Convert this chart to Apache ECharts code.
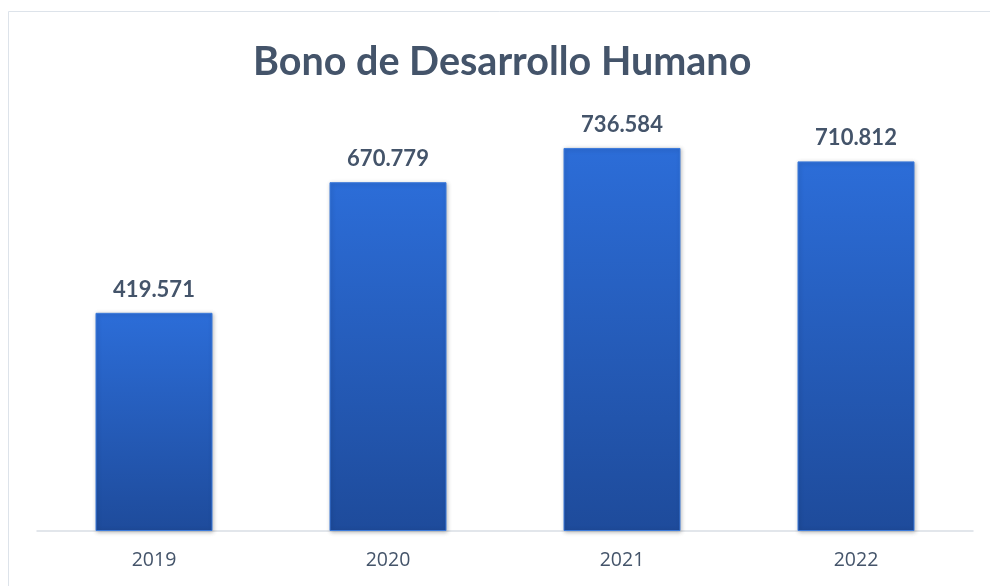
<!DOCTYPE html>
<html><head><meta charset="utf-8">
<script src="https://cdn.jsdelivr.net/npm/echarts@6/dist/echarts.min.js"></script>
<style>html,body{margin:0;padding:0;background:#fff}#c{width:990px;height:586px}</style>
</head><body><div id="c"></div>
<script>
const categories = ['2019', '2020', '2021', '2022'];
const values = [419.571, 670.779, 736.584, 710.812];
const titleText = 'Bono de Desarrollo Humano';

const chart = echarts.init(document.getElementById('c'));
chart.setOption({
  backgroundColor: '#fff',
  animation: false,
  graphic: [{
    type: 'rect', shape: { x: 8.5, y: 11.5, width: 1000, height: 600 },
    style: { fill: 'none', stroke: '#DDE3EA', lineWidth: 1 }, silent: true
  }],
  title: {
    text: titleText, left: 248, top: 37,
    textStyle: { fontFamily: 'Lato', fontWeight: 'bold', fontSize: 39.5, color: '#44546A' }
  },
  grid: { left: 37, right: 17, top: 115, bottom: 55 },
  xAxis: {
    type: 'category', data: categories,
    axisLine: { lineStyle: { color: '#D9DEE5', width: 1.5 } },
    axisTick: { show: false },
    axisLabel: { fontFamily: 'Open Sans', fontSize: 19.5, color: '#44546A', margin: 19 }
  },
  yAxis: { type: 'value', min: 0, max: 800, show: false, splitLine: { show: false } },
  series: [{
    type: 'bar', data: values, barWidth: '50%',
    itemStyle: {
      color: new echarts.graphic.LinearGradient(0, 0, 0, 1, [
        { offset: 0, color: '#2C6DD8' }, { offset: 1, color: '#1E4B9B' }
      ]),
      borderColor: '#3D7BDA', borderWidth: 1,
      shadowColor: 'rgba(0,0,0,0.25)', shadowBlur: 4, shadowOffsetX: 1, shadowOffsetY: 1
    },
    label: {
      show: true, position: 'top', distance: 12,
      formatter: p => p.value.toFixed(3),
      fontFamily: 'Lato', fontWeight: 'bold', fontSize: 22, color: '#44546A'
    }
  }]
});
</script></body></html>
